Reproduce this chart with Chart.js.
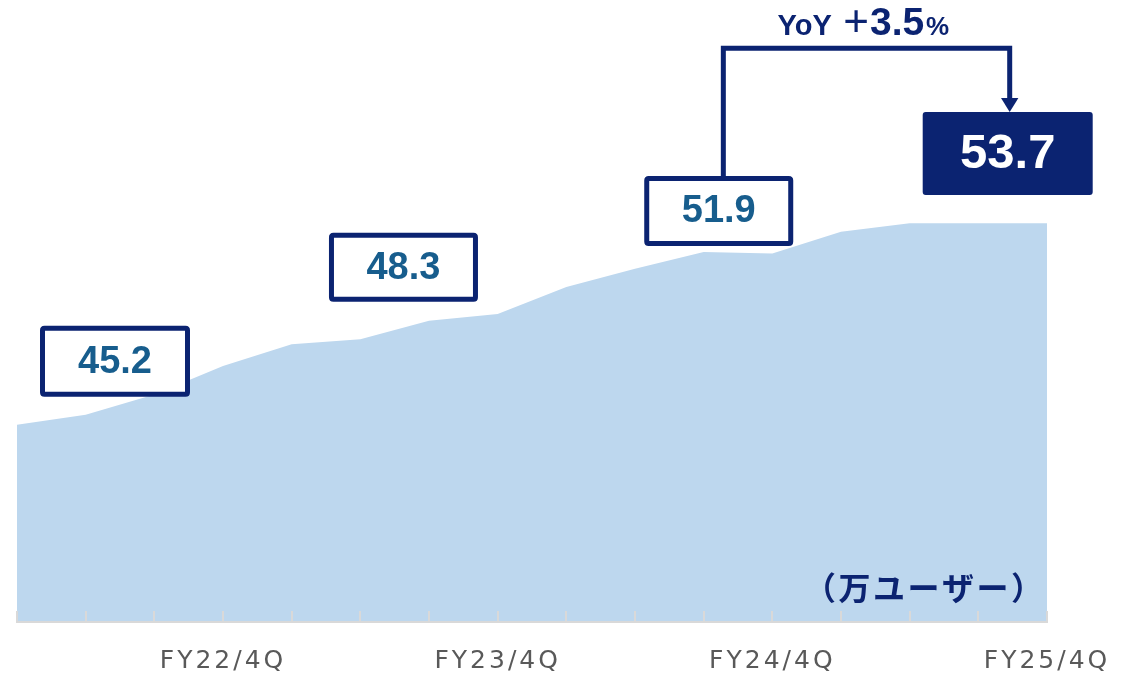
<!DOCTYPE html>
<html>
<head>
<meta charset="utf-8">
<script src="https://cdn.jsdelivr.net/npm/chart.js@4.4.1/dist/chart.umd.min.js"></script>
<style>
  html, body { margin: 0; padding: 0; background: #ffffff; }
  #c { display: block; }
</style>
</head>
<body>
<canvas id="c" width="1140" height="683"></canvas>
<script>
// ---- data ----
const categories = [
  'FY22/1Q','FY22/2Q','FY22/3Q','FY22/4Q',
  'FY23/1Q','FY23/2Q','FY23/3Q','FY23/4Q',
  'FY24/1Q','FY24/2Q','FY24/3Q','FY24/4Q',
  'FY25/1Q','FY25/2Q','FY25/3Q','FY25/4Q'
];
const users = [41.7, 42.3, 43.5, 45.2, 46.5, 46.8, 47.9, 48.3, 49.9, 51.0, 52.0, 51.9, 53.2, 53.7, 53.7, 53.7];
const tickLabels = ['FY22/4Q', 'FY23/4Q', 'FY24/4Q', 'FY25/4Q'];
const calloutIndices = [3, 7, 11, 15];
const unitLabel = '（万ユーザー）';

// ---- styles (layout only) ----
const NAVY = '#0b2371';
const VALUE_BLUE = '#175d8d';
const AREA = '#bdd7ee';
const AXIS = '#d9d9d9';
const calloutStyle = {
  3:  { dx: -108,  dy: -4.7,  w: 150, h: 71, filled: false },
  7:  { dx: -94.2, dy: -46.7, w: 149, h: 69, filled: false },
  11: { dx: -53.6, dy: -42.6, w: 149, h: 70, filled: false },
  15: { dx: -39.3, dy: -69.8, w: 170, h: 83, filled: true }
};

function roundRect(ctx, x, y, w, h, r) {
  ctx.beginPath();
  ctx.moveTo(x + r, y);
  ctx.lineTo(x + w - r, y);
  ctx.quadraticCurveTo(x + w, y, x + w, y + r);
  ctx.lineTo(x + w, y + h - r);
  ctx.quadraticCurveTo(x + w, y + h, x + w - r, y + h);
  ctx.lineTo(x + r, y + h);
  ctx.quadraticCurveTo(x, y + h, x, y + h - r);
  ctx.lineTo(x, y + r);
  ctx.quadraticCurveTo(x, y, x + r, y);
  ctx.closePath();
}

const spacingPlugin = {
  id: 'spacing',
  beforeDraw(chart) { chart.ctx.letterSpacing = '3px'; },
  beforeDatasetsDraw(chart) { chart.ctx.letterSpacing = '0px'; }
};

const tickPlugin = {
  id: 'innerTicks',
  afterDatasetsDraw(chart) {
    const ctx = chart.ctx, xs = chart.scales.x, area = chart.chartArea;
    ctx.save();
    ctx.strokeStyle = AXIS;
    ctx.lineWidth = 2;
    xs.ticks.forEach((t, i) => {
      const x = Math.round(xs.getPixelForTick(i));
      ctx.beginPath();
      ctx.moveTo(x, area.bottom - 10);
      ctx.lineTo(x, area.bottom);
      ctx.stroke();
    });
    ctx.restore();
  }
};

const annotationPlugin = {
  id: 'callouts',
  afterDraw(chart) {
    const ctx = chart.ctx, xs = chart.scales.x, ys = chart.scales.y, area = chart.chartArea;
    ctx.save();
    ctx.letterSpacing = '0px';
    const centers = {};
    calloutIndices.forEach(i => {
      const s = calloutStyle[i];
      const cx = xs.getPixelForValue(i) + s.dx;
      const cy = ys.getPixelForValue(users[i]) + s.dy;
      centers[i] = { cx, cy, s };
      const x0 = cx - s.w / 2, y0 = cy - s.h / 2;
      if (s.filled) {
        ctx.fillStyle = NAVY;
        roundRect(ctx, x0, y0, s.w, s.h, 3);
        ctx.fill();
        ctx.fillStyle = '#ffffff';
        ctx.font = 'bold 49px "Liberation Sans", Arial, sans-serif';
        ctx.textAlign = 'center';
        ctx.textBaseline = 'alphabetic';
        ctx.fillText(users[i].toFixed(1), cx, cy + 14.8);
      } else {
        ctx.fillStyle = '#ffffff';
        roundRect(ctx, x0 + 2.5, y0 + 2.5, s.w - 5, s.h - 5, 2);
        ctx.fill();
        ctx.strokeStyle = NAVY;
        ctx.lineWidth = 5;
        ctx.stroke();
        ctx.fillStyle = VALUE_BLUE;
        ctx.font = 'bold 38px "Liberation Sans", Arial, sans-serif';
        ctx.textAlign = 'center';
        ctx.textBaseline = 'alphabetic';
        ctx.fillText(users[i].toFixed(1), cx, cy + 11.5);
      }
    });

    // YoY connector arrow from FY24/4Q to FY25/4Q
    const a = centers[11], b = centers[15];
    const xL = a.cx + 4.6, xR = b.cx + 2;
    const yTop = 48.3;
    const aTop = a.cy - a.s.h / 2;
    const bTop = b.cy - b.s.h / 2;
    ctx.strokeStyle = NAVY;
    ctx.lineWidth = 5;
    ctx.lineJoin = 'miter';
    ctx.beginPath();
    ctx.moveTo(xL, aTop + 1);
    ctx.lineTo(xL, yTop);
    ctx.lineTo(xR, yTop);
    ctx.lineTo(xR, bTop - 13);
    ctx.stroke();
    ctx.fillStyle = NAVY;
    ctx.beginPath();
    ctx.moveTo(xR - 8.7, bTop - 14);
    ctx.lineTo(xR + 8.7, bTop - 14);
    ctx.lineTo(xR, bTop);
    ctx.closePath();
    ctx.fill();

    // YoY text
    const yoy = ((users[15] / users[11]) - 1) * 100;
    const mid = (xL + xR) / 2;
    const base = yTop - 13.3;
    ctx.fillStyle = NAVY;
    ctx.textBaseline = 'alphabetic';
    ctx.textAlign = 'left';
    ctx.font = 'bold 29px "Liberation Sans", Arial, sans-serif';
    ctx.fillText('YoY', mid - 89, base);
    ctx.textAlign = 'center';
    ctx.font = '44px "Liberation Sans", Arial, sans-serif';
    ctx.fillText('+', mid - 10.5, base + 1);
    ctx.textAlign = 'left';
    ctx.font = 'bold 39px "Liberation Sans", Arial, sans-serif';
    ctx.fillText(yoy.toFixed(1), mid + 3.5, base);
    ctx.font = 'bold 26px "Liberation Sans", Arial, sans-serif';
    ctx.fillText('%', mid + 59.5, base);

    // unit label
    ctx.font = 'bold 32px "Noto Sans CJK JP", sans-serif';
    ctx.letterSpacing = '2.5px';
    ctx.textAlign = 'left';
    ctx.textBaseline = 'middle';
    ctx.fillStyle = NAVY;
    ctx.fillText(unitLabel, area.right - 243, area.bottom - 33);
    ctx.restore();
  }
};

new Chart(document.getElementById('c'), {
  type: 'line',
  data: {
    labels: categories,
    datasets: [{
      data: users,
      fill: 'start',
      backgroundColor: AREA,
      borderWidth: 0,
      borderColor: AREA,
      pointRadius: 0,
      tension: 0
    }]
  },
  options: {
    responsive: false,
    animation: false,
    events: [],
    layout: { padding: { left: 17, right: 93, top: 17, bottom: 0 } },
    plugins: { legend: { display: false }, tooltip: { enabled: false }, title: { display: false } },
    scales: {
      x: {
        offset: false,
        grid: { display: false, drawTicks: false },
        border: { display: true, color: AXIS, width: 3 },
        ticks: {
          autoSkip: false,
          maxRotation: 0,
          minRotation: 0,
          padding: 25,
          color: '#595959',
          font: { family: '"DejaVu Sans", sans-serif', size: 25, weight: 'normal', lineHeight: 1.2 },
          callback: function (value) {
            const lab = this.getLabelForValue(value);
            return tickLabels.includes(lab) ? lab : '';
          }
        },
        afterFit: (scale) => {
          scale.height = 62;
          scale.paddingLeft = 0;
          scale.paddingRight = 0;
        }
      },
      y: {
        display: false,
        min: 30,
        max: 66
      }
    }
  },
  plugins: [spacingPlugin, tickPlugin, annotationPlugin]
});
</script>
</body>
</html>
